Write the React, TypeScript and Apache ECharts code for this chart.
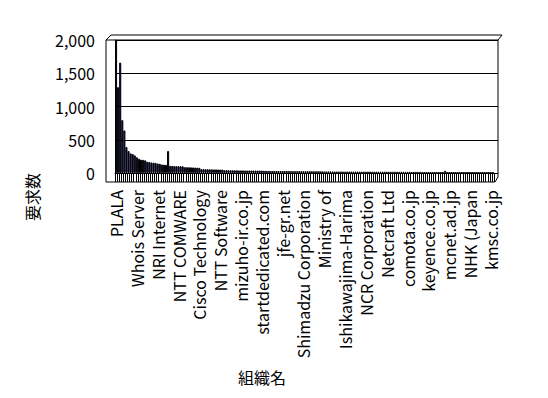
import React, { useEffect, useRef } from 'react';
import * as echarts from 'echarts';

// Organisation names shown on the category axis (every 10th category)
const labeledOrgs = [
  'PLALA', 'Whois Server', 'NRI Internet', 'NTT COMWARE', 'Cisco Technology',
  'NTT Software', 'mizuho-ir.co.jp', 'startdedicated.com', 'jfe-gr.net',
  'Shimadzu Corporation', 'Ministry of', 'Ishikawajima-Harima', 'NCR Corporation',
  'Netcraft Ltd', 'comota.co.jp', 'keyence.co.jp', 'mcnet.ad.jp', 'NHK (Japan', 'kmsc.co.jp',
];
const labelEvery = 10;

// Request counts per organisation
const headCounts = [
  2000, 1290, 1660, 795, 640, 390, 330, 295, 285, 265,
  235, 215, 200, 198, 190, 168, 165, 158, 155, 152,
  142, 138, 128, 125, 122, 330, 108, 105, 104, 103,
  102, 101, 100, 88, 87, 86, 85, 84, 82, 80,
  78,
];
const midCounts = [
  58, 57, 56, 56, 55, 55, 54, 54, 53, 52, 52,
  42, 42, 41, 41, 40, 40, 40, 39, 39, 39, 38, 38, 38, 37, 37, 37, 36, 36, 36,
  32, 32, 31, 31, 31, 30, 30, 30, 30, 29, 29, 29, 29, 28, 28, 28, 28, 28, 27, 27,
  27, 27, 27, 26, 26, 26, 26, 26, 25,
];
const tailCounts = [
  24, 24, 24, 24, 23, 23, 23, 23, 23, 23, 22, 22, 22, 22, 22, 22, 21, 21, 21, 21,
  21, 21, 21, 20, 20, 20, 20, 20, 20, 20, 19, 19, 19, 19, 19, 19, 18, 18, 18, 18,
  18, 18, 17, 17, 17, 17, 17, 16, 16, 16,
  7, 7, 7, 7, 7, 7, 7, 7, 34, 7, 6, 6, 6, 6, 6, 6, 6, 6, 6, 6,
  6, 5, 5, 5, 5, 5, 5, 5, 5, 5, 5, 5,
];
const requestCounts = [...headCounts, ...midCounts, ...tailCounts];

const yMin = 0;
const yMax = 2000;
const yStep = 500;

const categories = requestCounts.map((_, i) =>
  i % labelEvery === 0 ? labeledOrgs[i / labelEvery] ?? '' : ''
);

const font = '"Noto Sans CJK JP", "Noto Sans", sans-serif';

export default function App() {
  const ref = useRef<HTMLDivElement>(null);
  useEffect(() => {
    if (!ref.current) return;
    const chart = echarts.init(ref.current, undefined, { renderer: 'svg' });
    chart.setOption({
      animation: false,
      backgroundColor: '#ffffff',
      textStyle: { fontFamily: font },
      grid: [
        { left: 115, right: 54, top: 40, bottom: 225 },
        { left: 115, right: 50, top: 40, bottom: 225 },
      ],
      xAxis: [
        {
          type: 'category',
          gridIndex: 0,
          data: categories,
          axisLine: { show: true, lineStyle: { color: '#000', width: 1 } },
          axisTick: { show: true, interval: 0, length: 9, lineStyle: { color: '#000', width: 1 } },
          axisLabel: {
            interval: 0,
            rotate: 90,
            margin: 17,
            color: '#000',
            fontSize: 16,
            fontFamily: font,
          },
          splitLine: { show: false },
        },
        { type: 'category', gridIndex: 1, data: [''], show: false },
      ],
      yAxis: [
        {
          type: 'value',
          gridIndex: 0,
          min: yMin,
          max: yMax,
          interval: yStep,
          axisLine: { show: false },
          axisTick: { show: false },
          splitLine: { show: false },
          axisLabel: {
            margin: 20,
            color: '#000',
            fontSize: 16,
            fontFamily: font,
            formatter: (v: number) => v.toLocaleString('en-US'),
          },
        },
        {
          type: 'value',
          gridIndex: 1,
          min: yMin,
          max: yMax,
          interval: yStep,
          axisLine: { show: true, lineStyle: { color: '#000', width: 1 } },
          axisTick: { show: false },
          axisLabel: { show: false },
          splitLine: { show: true, lineStyle: { color: '#000', width: 1 } },
        },
      ],
      series: [
        {
          type: 'bar',
          xAxisIndex: 0,
          yAxisIndex: 0,
          data: requestCounts,
          barCategoryGap: '0%',
          itemStyle: { color: '#000080', borderColor: '#000', borderWidth: 1 },
        },
      ],
      graphic: [
        {
          type: 'polyline',
          z: 100,
          shape: { points: [[106, 182], [106, 40], [111, 35], [502, 35], [498, 40], [106, 40]] },
          style: { stroke: '#000', lineWidth: 1, fill: 'none' },
        },
        {
          type: 'polyline',
          z: 100,
          shape: { points: [[498, 40], [498, 177], [495, 182], [106, 182]] },
          style: { stroke: '#000', lineWidth: 1, fill: 'none' },
        },
        {
          type: 'text',
          x: 32,
          y: 197,
          rotation: Math.PI / 2,
          style: {
            text: '要求数',
            font: `16px ${font}`,
            fill: '#000',
            align: 'center',
            verticalAlign: 'middle',
          },
        },
        {
          type: 'text',
          x: 262,
          y: 377,
          style: {
            text: '組織名',
            font: `16px ${font}`,
            fill: '#000',
            align: 'center',
            verticalAlign: 'middle',
          },
        },
      ],
    });
    return () => chart.dispose();
  }, []);
  return (
    <div
      ref={ref}
      style={{ position: 'absolute', left: 0, top: 0, width: 548, height: 398, background: '#fff' }}
    />
  );
}
